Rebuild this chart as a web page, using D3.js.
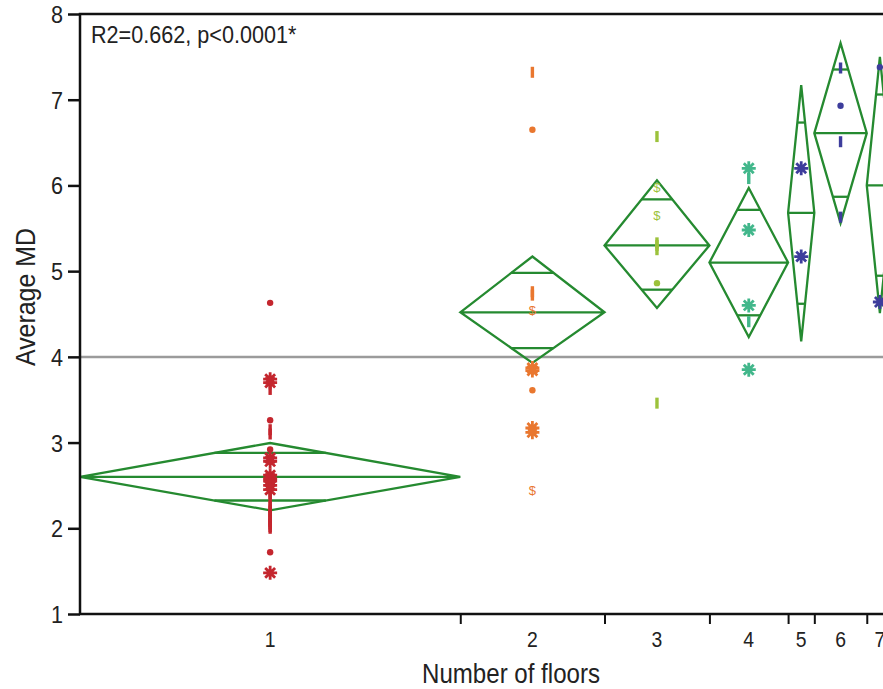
<!DOCTYPE html>
<html>
<head>
<meta charset="utf-8">
<script src="https://cdn.jsdelivr.net/npm/d3@7"></script>
<style>
  body { margin: 0; background: #fff; }
  svg text { font-family: "Liberation Sans", Arial, sans-serif; fill: #222; }
</style>
</head>
<body>
<div id="chart"></div>
<script>
// data
const floors = ['1', '2', '3', '4', '5', '6', '7'];
const groupColors = ['#c4262e', '#e9772f', '#9cc23b', '#42b78b', '#3d3d9c', '#3d3d9c', '#3d3d9c'];

// points per group: value + marker type
const pts1 = [[4.63,'dot'],[3.74,'star'],[3.70,'star'],[3.62,'bar'],[3.26,'dot'],[3.15,'bar'],[3.10,'bar'],
  [2.92,'dot'],[2.82,'star'],[2.78,'star'],[2.62,'star'],[2.58,'star'],[2.55,'star'],[2.50,'star'],[2.45,'star'],
  [2.40,'bar'],[2.35,'bar'],[2.25,'bar'],[2.22,'bar'],[2.20,'bar'],[2.15,'bar'],[2.13,'bar'],[2.10,'bar'],
  [2.08,'bar'],[2.05,'bar'],[2.02,'bar'],[2.00,'bar'],[1.72,'dot'],[1.48,'star']];
const pts2 = [[7.32,'bar'],[6.65,'dot'],[4.76,'bar'],[4.72,'bar'],[4.55,'dollar'],[3.87,'star'],[3.84,'star'],
  [3.61,'dot'],[3.17,'star'],[3.12,'star'],[2.45,'dollar']];
const pts3 = [[6.57,'bar'],[5.98,'dollar'],[5.65,'dollar'],[5.33,'bar'],[5.30,'bar'],[5.25,'bar'],[4.86,'dot'],[3.46,'bar']];
const pts4 = [[6.20,'star'],[6.08,'bar'],[5.48,'star'],[4.60,'star'],[4.41,'bar'],[3.85,'star']];
const pts5 = [[6.20,'star'],[5.17,'star']];
const pts6 = [[7.37,'bar'],[6.93,'dot'],[6.51,'bar'],[5.63,'bar']];
const pts7 = [[7.38,'dot'],[4.64,'star']];
const points = [pts1, pts2, pts3, pts4, pts5, pts6, pts7];

// means diamonds (mean, 95% CI)
const means = [2.60, 4.52, 5.30, 5.10, 5.68, 6.61, 6.00];
const lower = [2.21, 3.93, 4.57, 4.23, 4.18, 5.56, 4.51];
const upper = [2.995, 5.17, 6.06, 5.97, 7.17, 7.66, 7.50];

const yTicks = [1, 2, 3, 4, 5, 6, 7, 8];
const statText = 'R2=0.662, p<0.0001*';

//Set up DOM scaffolding
const width = 883, height = 689;
const margin = {t:14, l:80};
const plotW = 813, plotH = 600;

const svg = d3.select('#chart').append('svg')
  .attr('width', width).attr('height', height);
const plot = svg.append('g')
  .attr('transform', `translate(${margin.l},${margin.t})`);

//group widths proportional to n
const counts = points.map(p => p.length);
const total = d3.sum(counts);
const cum = [0, ...d3.cumsum(counts)];
const scaleX = d3.scaleLinear().domain([0, total]).range([0, plotW]);
const scaleY = d3.scaleLinear().domain([1, 8]).range([plotH, 0]);
const centers = counts.map((c, i) => scaleX(cum[i] + c / 2));

const green = '#258a30';

//grand mean line
const grand = d3.sum(means.map((m, i) => m * counts[i])) / total;
plot.append('line')
  .attr('x1', 0).attr('x2', plotW)
  .attr('y1', scaleY(grand)).attr('y2', scaleY(grand))
  .style('stroke', '#9b9b9b').style('stroke-width', 2.5);

//diamonds
const diamonds = plot.selectAll('.diamond')
  .data(means.map((m, i) => ({m, lo: lower[i], hi: upper[i], x0: scaleX(cum[i]), x1: scaleX(cum[i+1])})))
  .enter().append('g').attr('class', 'diamond');

diamonds.append('path')
  .attr('d', d => {
    const xc = (d.x0 + d.x1) / 2;
    return `M${d.x0},${scaleY(d.m)}L${xc},${scaleY(d.hi)}L${d.x1},${scaleY(d.m)}L${xc},${scaleY(d.lo)}Z`
      + `M${d.x0},${scaleY(d.m)}L${d.x1},${scaleY(d.m)}`;
  })
  .style('fill', 'none').style('stroke', green).style('stroke-width', 2.3).style('stroke-linejoin', 'miter');

//overlap marks at mean +- halfwidth/sqrt(2)
diamonds.each(function(d){
  const g = d3.select(this);
  const xc = (d.x0 + d.x1) / 2;
  const hw = (d.x1 - d.x0) / 2 * (1 - Math.SQRT1_2);
  [d.m + (d.hi - d.m) * Math.SQRT1_2, d.m - (d.m - d.lo) * Math.SQRT1_2].forEach(v => {
    g.append('line')
      .attr('x1', xc - hw).attr('x2', xc + hw)
      .attr('y1', scaleY(v)).attr('y2', scaleY(v))
      .style('stroke', green).style('stroke-width', 2.3);
  });
});

//points
const starPath = (r) => {
  let p = '';
  [0, 45, 90, 135].forEach(a => {
    const dx = r * Math.cos(a * Math.PI / 180), dy = r * Math.sin(a * Math.PI / 180);
    p += `M${-dx},${-dy}L${dx},${dy}`;
  });
  return p;
};
points.forEach((grp, i) => {
  const col = groupColors[i];
  const g = plot.append('g').attr('class', 'pts');
  grp.forEach(([v, t]) => {
    const x = centers[i], y = scaleY(v);
    if (t === 'dot') {
      g.append('circle').attr('cx', x).attr('cy', y).attr('r', 3.2).style('fill', col);
    } else if (t === 'star') {
      g.append('path').attr('transform', `translate(${x},${y})`)
        .attr('d', starPath(7)).style('stroke', col).style('stroke-width', 2.8);
    } else if (t === 'bar') {
      g.append('rect').attr('x', x - 1.7).attr('y', y - 5.5).attr('width', 3.4).attr('height', 11).style('fill', col);
    } else {
      g.append('text').attr('x', x).attr('y', y + 5).attr('text-anchor', 'middle')
        .style('font-size', '13px').style('fill', col).text('$');
    }
  });
});

//Axis
const axisY = d3.axisLeft(scaleY).tickValues(yTicks).tickSize(12).tickPadding(5).tickFormat(d3.format('d'));
const axisYNode = plot.append('g').attr('class', 'axis-y').call(axisY);
axisYNode.select('.domain').remove();
axisYNode.selectAll('line').style('stroke', '#111').style('stroke-width', 2.5);
axisYNode.selectAll('text')
  .attr('x', null).attr('dy', null)
  .attr('transform', 'translate(-17,8.5) scale(0.9,1)')
  .style('font-size', '24px').style('fill', '#222');

//frame lines (left, top, bottom)
plot.append('path')
  .attr('d', `M${plotW + 20},0L0,0L0,${plotH}L${plotW + 20},${plotH}`)
  .style('fill', 'none').style('stroke', '#111').style('stroke-width', 2.5);

//x axis: separators at group boundaries, labels at centers
const axisX = d3.axisBottom(scaleX).tickValues(cum.slice(1, -1)).tickSize(10).tickFormat('');
const axisXNode = plot.append('g').attr('class', 'axis-x')
  .attr('transform', `translate(0,${plotH})`).call(axisX);
axisXNode.select('.domain').remove();
axisXNode.selectAll('line').style('stroke', '#111').style('stroke-width', 2);

plot.append('g').selectAll('text')
  .data(floors).enter().append('text')
  .attr('transform', (d, i) => `translate(${centers[i]},${plotH + 33}) scale(0.88,1)`)
  .attr('text-anchor', 'middle')
  .style('font-size', '22px')
  .text(d => d);

//titles
svg.append('text')
  .attr('transform', 'translate(511,683) scale(0.86,1)')
  .attr('text-anchor', 'middle')
  .style('font-size', '28px')
  .text('Number of floors');

svg.append('text')
  .attr('transform', 'translate(35,297) rotate(-90) scale(0.89,1)')
  .attr('text-anchor', 'middle')
  .style('font-size', '28px')
  .text('Average MD');

svg.append('text')
  .attr('transform', 'translate(91,43) scale(0.92,1)')
  .style('font-size', '23.5px')
  .text(statText);
</script>
</body>
</html>
